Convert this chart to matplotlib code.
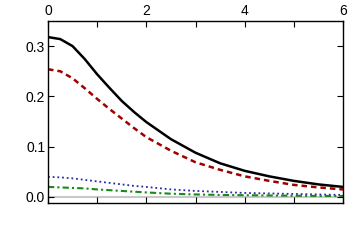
import matplotlib
matplotlib.use('Agg')
import matplotlib.pyplot as plt

plt.rcParams['font.family'] = ['Liberation Sans', 'DejaVu Sans']

x = [0, 0.25, 0.5, 0.75, 1, 1.25, 1.5, 1.75, 2, 2.5, 3, 3.5, 4, 4.5, 5, 5.5, 6]
y_black = [0.318, 0.314, 0.300, 0.274, 0.244, 0.217, 0.191, 0.169, 0.149, 0.115, 0.088,
           0.067, 0.052, 0.041, 0.032, 0.025, 0.020]
y_red = [0.254, 0.250, 0.236, 0.216, 0.195, 0.175, 0.156, 0.137, 0.119, 0.092, 0.069,
         0.054, 0.041, 0.032, 0.024, 0.019, 0.015]
y_blue = [0.040, 0.039, 0.037, 0.034, 0.031, 0.028, 0.025, 0.022, 0.020, 0.015, 0.012,
          0.010, 0.008, 0.007, 0.006, 0.005, 0.004]
y_green = [0.020, 0.019, 0.018, 0.017, 0.015, 0.0135, 0.012, 0.0105, 0.009, 0.0065, 0.005,
           0.004, 0.0035, 0.003, 0.0025, 0.002, 0.002]

xticks = [0, 2, 4, 6]
yticks = [0.0, 0.1, 0.2, 0.3]

fig = plt.figure(figsize=(3.49, 2.48), dpi=100)
ax = fig.add_axes([48/349, 45/248, 295/349, 182/248])

ax.axhline(0, color='#c8c8c8', lw=1.5, zorder=1)
ax.plot(x, y_black, color='black', lw=1.8)
ax.plot(x, y_red, color='#a00000', lw=1.8, ls=(0, (2.2, 1.6)))
ax.plot(x, y_blue, color='#2a2aa8', lw=1.3, ls=(0, (1, 1.6)))
ax.plot(x, y_green, color='#178a17', lw=1.5, ls=(0, (3, 1.5, 1, 1.5)))

ax.set_xlim(0, 6)
ax.set_ylim(-0.012, 0.35)
ax.set_xticks(xticks)
ax.set_xticks([1, 3, 5], minor=True)
ax.set_yticks(yticks)
ax.set_yticklabels(['0.0', '0.1', '0.2', '0.3'])
ax.tick_params(which='both', direction='in', top=True, right=True,
               labeltop=True, labelbottom=False, labelsize=10, length=4, width=0.8, pad=2)
for s in ax.spines.values():
    s.set_linewidth(1.0)

fig.savefig('out.png', dpi=100)
